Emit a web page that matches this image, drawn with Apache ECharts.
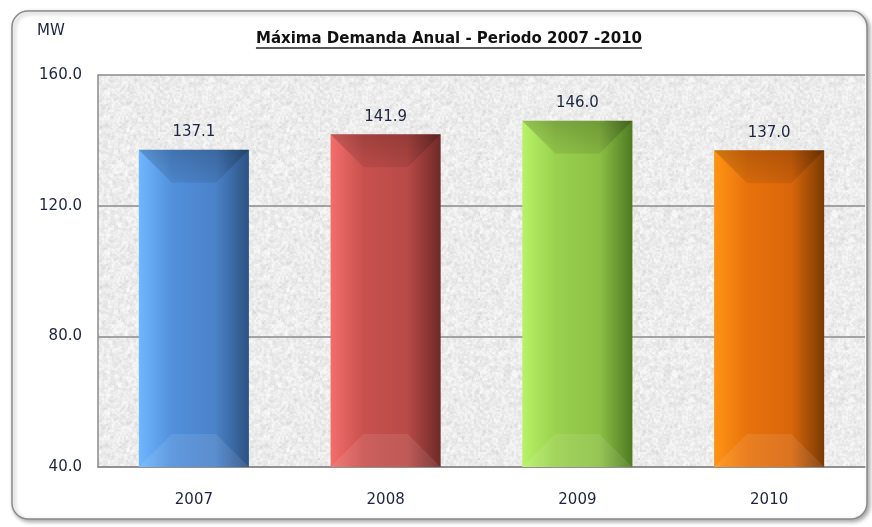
<!DOCTYPE html>
<html>
<head>
<meta charset="utf-8">
<script src="https://cdn.jsdelivr.net/npm/echarts@6/dist/echarts.min.js"></script>
<style>
  html, body { margin: 0; padding: 0; background: #fff; }
  #main { width: 872px; height: 527px; }
</style>
</head>
<body>
<div id="main"></div>
<script>
// datos
var years = ['2007', '2008', '2009', '2010'];
var demanda = [137.1, 141.9, 146.0, 137.0];
var yTicks = [40, 80, 120, 160];

// colores de cada barra: claro (izq), medio, oscuro (der)
var barColors = [
  ['#6fb6ff', '#5290dc', '#4a82c8', '#2c5282'],
  ['#f26e6b', '#c8514e', '#b84a47', '#6e2a28'],
  ['#b8f266', '#9ad14e', '#8cc045', '#4f7a22'],
  ['#ff9414', '#e8720c', '#d9660a', '#7a3a04']
];

var FONT = 'DejaVu Sans';
var TEXT = '#1d2540';

// textura gris tipo granito para el fondo del area de trazado
function makeTexture() {
  var small = document.createElement('canvas');
  small.width = 80; small.height = 80;
  var sctx = small.getContext('2d');
  var img = sctx.createImageData(80, 80);
  var seed = 12345;
  function rnd() { seed = (seed * 1103515245 + 12345) & 0x7fffffff; return seed / 0x7fffffff; }
  for (var i = 0; i < 80 * 80; i++) {
    var g = 226 + Math.floor(rnd() * 26) - (rnd() < 0.1 ? 14 : 0);
    img.data[i * 4] = g; img.data[i * 4 + 1] = g; img.data[i * 4 + 2] = g; img.data[i * 4 + 3] = 255;
  }
  sctx.putImageData(img, 0, 0);
  var c = document.createElement('canvas');
  c.width = 160; c.height = 160;
  var ctx = c.getContext('2d');
  ctx.imageSmoothingEnabled = true;
  ctx.drawImage(small, 0, 0, 160, 160);
  // grano fino encima
  var fine = ctx.getImageData(0, 0, 160, 160);
  for (var j = 0; j < 160 * 160; j++) {
    var d = Math.floor(rnd() * 10) - 5;
    fine.data[j * 4] += d; fine.data[j * 4 + 1] += d; fine.data[j * 4 + 2] += d;
  }
  ctx.putImageData(fine, 0, 0);
  return c;
}

var chart = echarts.init(document.getElementById('main'));

var grid = { left: 98, top: 75, right: 7, bottom: 60 };

// ancho del titulo para el subrayado
var titleText = 'Máxima Demanda Anual - Periodo 2007 -2010';
var titleFont = 'bold 15px "' + FONT + '"';
var mctx = document.createElement('canvas').getContext('2d');
mctx.font = titleFont;
var titleW = mctx.measureText(titleText).width;

function renderBar(params, api) {
  var idx = params.dataIndex;
  var val = api.value(1);
  var top = api.coord([api.value(0), val]);
  var base = api.coord([api.value(0), yTicks[0]]);
  var w = api.size([1, 0])[0] * 0.574;
  var x0 = top[0] - w / 2, x1 = top[0] + w / 2;
  var y0 = top[1], y1 = base[1];
  var b = 33;
  var c = barColors[idx];
  return {
    type: 'group',
    children: [
      {
        type: 'rect',
        shape: { x: x0, y: y0, width: w, height: y1 - y0 },
        style: {
          fill: new echarts.graphic.LinearGradient(0, 0, 1, 0, [
            { offset: 0, color: c[0] },
            { offset: 0.3, color: c[1] },
            { offset: 0.7, color: c[2] },
            { offset: 1, color: c[3] }
          ])
        },
        textContent: {
          style: { text: val.toFixed(1), fill: TEXT, font: '15px "' + FONT + '"' }
        },
        textConfig: { position: 'top', distance: 10 }
      },
      {
        type: 'polygon',
        shape: { points: [[x0, y0], [x1, y0], [x1 - b, y0 + b], [x0 + b, y0 + b]] },
        style: {
          fill: new echarts.graphic.LinearGradient(0, 0, 0, 1, [
            { offset: 0, color: 'rgba(0,0,0,0.2)' },
            { offset: 1, color: 'rgba(0,0,0,0.08)' }
          ])
        }
      },
      {
        type: 'polygon',
        shape: { points: [[x0, y1], [x1, y1], [x1 - b, y1 - b], [x0 + b, y1 - b]] },
        style: { fill: 'rgba(255,255,255,0.09)' }
      }
    ]
  };
}

chart.setOption({
  backgroundColor: '#fff',
  animation: false,
  grid: grid,
  graphic: [
    {
      type: 'rect', z: -10, silent: true,
      shape: { x: 12, y: 11, width: 855, height: 508, r: 16 },
      style: { fill: '#fff', stroke: '#8a8a8a', lineWidth: 1.5,
        shadowBlur: 4, shadowOffsetX: 2, shadowOffsetY: 2, shadowColor: 'rgba(0,0,0,0.35)' }
    },
    {
      type: 'rect', z: -5, silent: true,
      shape: { x: grid.left, y: grid.top, width: 872 - grid.left - grid.right, height: 527 - grid.top - grid.bottom },
      style: { fill: { image: makeTexture(), repeat: 'repeat' } }
    },
    {
      type: 'text', left: 37, top: 24,
      style: { text: 'MW', font: '15px "' + FONT + '"', fill: TEXT }
    },
    {
      type: 'text', x: 449, y: 39,
      style: { text: titleText, font: titleFont, fill: '#111', align: 'center', verticalAlign: 'middle' }
    },
    {
      type: 'line', silent: true,
      shape: { x1: 449 - titleW / 2, y1: 48, x2: 449 + titleW / 2, y2: 48 },
      style: { stroke: '#222', lineWidth: 1.5 }
    }
  ],
  xAxis: {
    type: 'category',
    data: years,
    axisLine: { show: true, lineStyle: { color: '#8a8a8a', width: 1.5 } },
    axisTick: { show: false },
    axisLabel: { color: TEXT, fontFamily: FONT, fontSize: 15, margin: 26 }
  },
  yAxis: {
    type: 'value',
    min: yTicks[0],
    max: yTicks[yTicks.length - 1],
    interval: 40,
    axisLine: { show: true, lineStyle: { color: '#8a8a8a', width: 1.5 } },
    axisTick: { show: false },
    axisLabel: { color: TEXT, fontFamily: FONT, fontSize: 15, margin: 16,
      formatter: function (v) { return v.toFixed(1); } },
    splitLine: { show: true, lineStyle: { color: '#8a8a8a', width: 1.5 } }
  },
  series: [{
    type: 'custom',
    renderItem: renderBar,
    encode: { x: 0, y: 1 },
    data: demanda.map(function (v, i) { return [i, v]; })
  }]
});
</script>
</body>
</html>
